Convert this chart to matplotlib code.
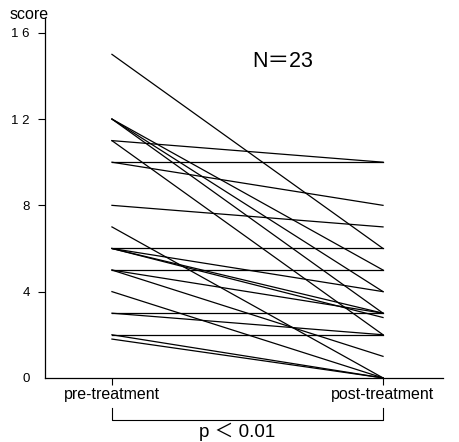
import matplotlib
matplotlib.use('Agg')
import matplotlib.pyplot as plt

# paired scores per patient
pre_scores  = [15, 12, 12, 12, 11, 11, 10, 10, 8, 7, 6, 6, 6, 6, 5, 5, 5, 4, 3, 3, 2, 2, 1.8]
post_scores = [6, 5, 4, 3, 10, 2, 10, 8, 7, 0, 6, 4, 3, 2.8, 5, 3, 1, 0, 3, 2, 2, 0, 0]
group_labels = ['pre-treatment', 'post-treatment']
ytick_vals = [0, 4, 8, 12, 16]
ytick_text = ['0', '4', '8', '1 2', '1 6']

plt.rcParams['font.family'] = ['Liberation Sans', 'Noto Sans CJK JP', 'DejaVu Sans']

fig = plt.figure(figsize=(4.59, 4.42), dpi=100)
ax = fig.add_axes([0.098, 0.145, 0.867, 0.815])

for a, b in zip(pre_scores, post_scores):
    ax.plot([0, 1], [a, b], color='black', lw=0.9)

ax.set_xlim(-0.247, 1.221)
ax.set_ylim(0, 16.7)
ax.spines['top'].set_visible(False)
ax.spines['right'].set_visible(False)
ax.spines['left'].set_linewidth(0.9)
ax.spines['bottom'].set_linewidth(0.9)

ax.set_yticks(ytick_vals)
ax.set_yticklabels(ytick_text, fontsize=9.5)
ax.yaxis.get_major_ticks()[0].tick1line.set_visible(False)
ax.tick_params(axis='y', length=5, width=0.8, pad=6)

ax.set_xticks([0, 1])
ax.set_xticklabels(group_labels, fontsize=11.5)
ax.tick_params(axis='x', length=5, width=0.8, pad=1.5)

# axis title on top of the y axis
ax.text(-0.306, 16.84, 'score', fontsize=11.5, ha='center', va='center')

ax.text(0.63, 14.66, 'N＝23', fontsize=15.5, ha='center', va='center')

# significance bracket
ax.plot([0, 0, 1, 1], [-1.4, -1.95, -1.95, -1.4], color='black', lw=0.8, clip_on=False)
ax.text(0.46, -2.73, 'p ＜ 0.01', fontsize=13.5, ha='center', va='baseline')

fig.savefig('out.png', dpi=100)
